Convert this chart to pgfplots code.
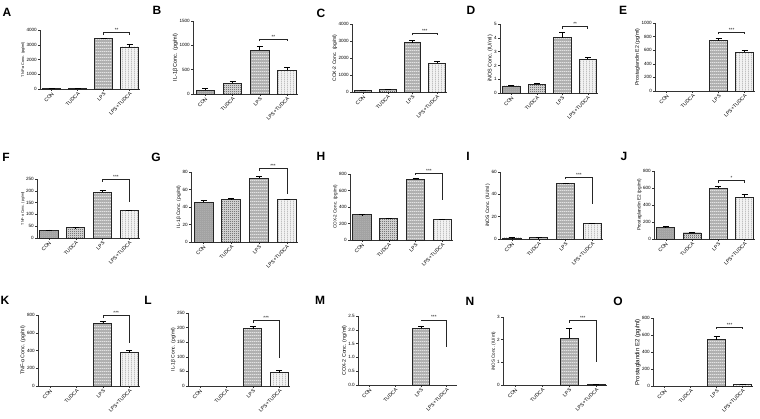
\documentclass[border=0pt]{standalone}
\usepackage{fontspec}
\setmainfont{Liberation Sans}
\setsansfont{Liberation Sans}
\usepackage{pgfplots}
\pgfplotsset{compat=1.18}
\usetikzlibrary{patterns}

\pgfdeclarepatternformonly{hl}{\pgfpointorigin}{\pgfpoint{2pt}{2.6pt}}{\pgfpoint{2pt}{2.6pt}}{\pgfpathrectangle{\pgfpointorigin}{\pgfpoint{2pt}{0.7pt}}\pgfusepath{fill}}
\pgfdeclarepatternformonly{vl}{\pgfpointorigin}{\pgfpoint{2.6pt}{2pt}}{\pgfpoint{2.6pt}{2pt}}{\pgfpathrectangle{\pgfpointorigin}{\pgfpoint{0.8pt}{2pt}}\pgfusepath{fill}}
\pgfdeclarepatternformonly{fchk}{\pgfpointorigin}{\pgfpoint{2pt}{2pt}}{\pgfpoint{2pt}{2pt}}{\pgfpathrectangle{\pgfpointorigin}{\pgfpoint{1pt}{1pt}}\pgfpathrectangle{\pgfpoint{1pt}{1pt}}{\pgfpoint{1pt}{1pt}}\pgfusepath{fill}}
\pgfdeclarepatternformonly{fx}{\pgfpointorigin}{\pgfpoint{2pt}{2pt}}{\pgfpoint{2pt}{2pt}}{\pgfpathrectangle{\pgfpointorigin}{\pgfpoint{1pt}{1pt}}\pgfusepath{fill}}

\newcommand{\tinyf}{\fontsize{4.6}{5}\selectfont}
\newcommand{\xf}{\fontsize{5}{5.5}\selectfont}

\pgfplotsset{
 panel/.style={
  scale only axis, anchor=south west,
  xmin=-0.45, xmax=3.4, ymin=0,
  axis x line=bottom, axis y line=left,
  axis line style={-, line width=0.7pt, black!80},
  ybar, bar width=0.68, bar shift=0pt,
  xtick={0,1,2,3}, xticklabels={CON,TUDCA,LPS,LPS+TUDCA},
  xticklabel style={rotate=45, anchor=north east, font=\xf, inner sep=0.5pt},
  tick align=outside, major tick length=2pt,
  tick style={black!80, line width=0.5pt},
  yticklabel style={font=\tinyf, inner sep=1pt},
  /pgf/number format/1000 sep={},
  /pgf/number format/assume math mode=true,
  ylabel style={font=\tinyf, yshift=-3pt},
  clip=false,
  error bars/y dir=plus, error bars/y explicit,
  error bars/error mark options={rotate=90, mark size=3pt, line width=0.7pt, black},
  error bars/error bar style={line width=0.7pt, black},
 },
 yl/.style={ylabel style={font=\fontsize{#1}{#1}\selectfont}},
 con/.style={draw=black!85, line width=0.9pt, fill=gray!72, postaction={pattern=fx, pattern color=gray!50}},
 tud/.style={draw=black!85, line width=0.9pt, fill=gray!20, postaction={pattern=fchk, pattern color=black!75}},
 lps/.style={draw=black!85, line width=0.9pt, fill=gray!62, postaction={pattern=hl, pattern color=white}},
 lpst/.style={draw=black!85, line width=0.9pt, fill=gray!10, postaction={pattern=vl, pattern color=gray!70}},
}

\newcommand{\sig}[4]{%
 \draw[line width=0.7pt, black!85] (axis cs:2,#1) -- (axis cs:2,#2) -- (axis cs:3,#2) -- (axis cs:3,#3);
 \node[font=\tinyf, above, inner sep=0.8pt] at (axis cs:2.5,#2) {#4};}

\newcommand{\plab}[2]{\node[font=\fontsize{12}{12}\selectfont\bfseries] at #1 {#2};}

\begin{document}
\begin{tikzpicture}
\useasboundingbox (0,0) rectangle (760pt,418pt);

% ---------- Row 1 ----------
\plab{(7pt,406pt)}{A}
\begin{axis}[panel, yl=3.8, at={(40pt,329pt)}, width=100pt, height=59pt, ymax=4000, ytick={0,1000,...,4000}, ylabel={TNF-α Conc. (pg/ml)}]
\addplot[con] coordinates {(0,30) +- (0,5)};
\addplot[tud] coordinates {(1,50) +- (0,8)};
\addplot[lps] coordinates {(2,3400) +- (0,40)};
\addplot[lpst] coordinates {(3,2850) +- (0,180)};
\sig{3690}{3850}{3690}{**}
\end{axis}

\plab{(157pt,408pt)}{B}
\begin{axis}[panel, yl=5.5, at={(193pt,324pt)}, width=105pt, height=73pt, ymax=1500, ytick={0,500,1000,1500}, ylabel={IL-1β Conc. (pg/ml)}]
\addplot[con] coordinates {(0,82) +- (0,25)};
\addplot[tud] coordinates {(1,219) +- (0,45)};
\addplot[lps] coordinates {(2,897) +- (0,90)};
\addplot[lpst] coordinates {(3,486) +- (0,65)};
\sig{1082}{1130}{1082}{**}
\end{axis}

\plab{(321pt,405pt)}{C}
\begin{axis}[panel, yl=5, at={(352pt,326pt)}, width=95pt, height=68pt, ymax=4000, ytick={0,1000,...,4000}, ylabel={COX-2 Conc. (pg/ml)}]
\addplot[con] coordinates {(0,98) +- (0,10)};
\addplot[tud] coordinates {(1,158) +- (0,15)};
\addplot[lps] coordinates {(2,2897) +- (0,155)};
\addplot[lpst] coordinates {(3,1694) +- (0,95)};
\sig{3330}{3450}{3330}{***}
\end{axis}

\plab{(471pt,408pt)}{D}
\begin{axis}[panel, yl=5.4, at={(500pt,325pt)}, width=98pt, height=69pt, ymax=5, ytick={0,1,...,5}, ylabel={iNOS Conc. (IU/ml)}]
\addplot[con] coordinates {(0,0.51) +- (0,0.05)};
\addplot[tud] coordinates {(1,0.63) +- (0,0.09)};
\addplot[lps] coordinates {(2,4.02) +- (0,0.37)};
\addplot[lpst] coordinates {(3,2.46) +- (0,0.12)};
\sig{4.66}{4.83}{4.66}{**}
\end{axis}

\plab{(623pt,408pt)}{E}
\begin{axis}[panel, yl=5.2, at={(655pt,327pt)}, width=100pt, height=68pt, ymax=1000, ytick={0,200,...,1000}, ylabel={Prostaglandin E2 (pg/ml)}]
\addplot[lps] coordinates {(2,739) +- (0,30)};
\addplot[lpst] coordinates {(3,571) +- (0,25)};
\sig{833}{867}{833}{***}
\end{axis}

% ---------- Row 2 ----------
\plab{(6pt,261pt)}{F}
\begin{axis}[panel, yl=3.6, at={(37pt,180pt)}, width=103pt, height=59pt, ymax=250, ytick={0,50,...,250}, ylabel={TNF-α Conc. (pg/ml)}]
\addplot[con] coordinates {(0,33) +- (0,1)};
\addplot[tud] coordinates {(1,43) +- (0,1)};
\addplot[lps] coordinates {(2,193) +- (0,9)};
\addplot[lpst] coordinates {(3,116) +- (0,1)};
\sig{239}{250}{153}{***}
\end{axis}

\plab{(156pt,261pt)}{G}
\begin{axis}[panel, yl=4.9, at={(191pt,176pt)}, width=107pt, height=70pt, ymax=80, ytick={0,20,...,80}, ylabel={IL-1β Conc. (pg/ml)}]
\addplot[con] coordinates {(0,45.7) +- (0,1.5)};
\addplot[tud] coordinates {(1,48.4) +- (0,1)};
\addplot[lps] coordinates {(2,73.1) +- (0,1.6)};
\addplot[lpst] coordinates {(3,48.4) +- (0,0.8)};
\sig{81}{83.8}{55}{***}
\end{axis}

\plab{(321pt,262pt)}{H}
\begin{axis}[panel, yl=4.6, at={(350pt,178pt)}, width=103pt, height=66pt, ymax=800, ytick={0,200,...,800}, ylabel={COX-2 Conc. (pg/ml)}]
\addplot[con] coordinates {(0,305) +- (0,3)};
\addplot[tud] coordinates {(1,264) +- (0,3)};
\addplot[lps] coordinates {(2,739) +- (0,8)};
\addplot[lpst] coordinates {(3,252) +- (0,3)};
\sig{790}{812}{487}{***}
\end{axis}

\plab{(468pt,262pt)}{I}
\begin{axis}[panel, yl=4.9, at={(500pt,179pt)}, width=103pt, height=67pt, ymax=60, ytick={0,20,40,60}, ylabel={iNOS Conc. (IU/ml)}]
\addplot[con] coordinates {(0,0.9) +- (0,0.2)};
\addplot[tud] coordinates {(1,1.0) +- (0,0.2)};
\addplot[lps] coordinates {(2,49.6) +- (0,0.6)};
\addplot[lpst] coordinates {(3,14) +- (0,0.3)};
\sig{53.5}{55.5}{30.9}{***}
\end{axis}

\plab{(624pt,262pt)}{J}
\begin{axis}[panel, yl=4.7, at={(654pt,179pt)}, width=101pt, height=68pt, ymax=800, ytick={0,200,...,800}, ylabel={Prostaglandin E2 (pg/ml)}]
\addplot[con] coordinates {(0,137) +- (0,8)};
\addplot[tud] coordinates {(1,71) +- (0,10)};
\addplot[lps] coordinates {(2,596) +- (0,28)};
\addplot[lpst] coordinates {(3,490) +- (0,35)};
\sig{663}{686}{663}{*}
\end{axis}

% ---------- Row 3 ----------
\plab{(5pt,118pt)}{K}
\begin{axis}[panel, yl=5.3, at={(38pt,32pt)}, width=102pt, height=71pt, ymax=800, ytick={0,200,...,800}, ylabel={TNF-α Conc. (pg/ml)}]
\addplot[lps] coordinates {(2,709) +- (0,23)};
\addplot[lpst] coordinates {(3,375) +- (0,23)};
\sig{766}{796}{485}{***}
\end{axis}

\plab{(148pt,118pt)}{L}
\begin{axis}[panel, yl=5, at={(188pt,32pt)}, width=102pt, height=73pt, ymax=250, ytick={0,50,...,250}, ylabel={IL-1β Conc. (pg/ml)}]
\addplot[lps] coordinates {(2,196) +- (0,7)};
\addplot[lpst] coordinates {(3,45.7) +- (0,6.8)};
\sig{217}{225}{95}{***}
\end{axis}

\plab{(320pt,118pt)}{M}
\begin{axis}[panel, yl=5.3, at={(358pt,33pt)}, width=99pt, height=69pt, ymax=2.5, ytick={0,0.5,...,2.5}, ylabel={COX-2 Conc. (ng/ml)}, yticklabel style={/pgf/number format/.cd, fixed, fixed zerofill, precision=1}]
\addplot[lps] coordinates {(2,2.05) +- (0,0.09)};
\sig{2.31}{2.36}{1.38}{***}
\end{axis}

\plab{(470pt,117pt)}{N}
\begin{axis}[panel, yl=4.5, at={(503pt,33pt)}, width=104pt, height=68pt, ymax=3, ytick={0,1,2,3}, ylabel={iNOS Conc. (IU/ml)}]
\addplot[lps] coordinates {(2,2.07) +- (0,0.41)};
\addplot[lpst] coordinates {(3,0.02) +- (0,0.01)};
\sig{2.75}{2.85}{1.03}{***}
\end{axis}

\plab{(618pt,117pt)}{O}
\begin{axis}[panel, yl=6, at={(653pt,32pt)}, width=100pt, height=68pt, ymax=800, ytick={0,200,...,800}, ylabel={Prostaglandin E2 (pg/ml)}]
\addplot[lps] coordinates {(2,542) +- (0,43)};
\addplot[lpst] coordinates {(3,16) +- (0,4)};
\sig{671}{690}{671}{***}
\end{axis}

\end{tikzpicture}
\end{document}
